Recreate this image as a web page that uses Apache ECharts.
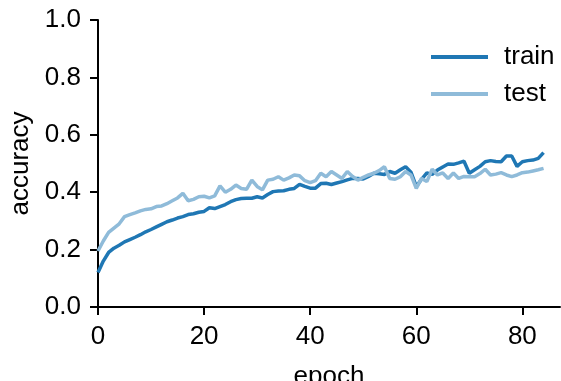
<!DOCTYPE html>
<html>
<head>
<meta charset="utf-8">
<script src="https://cdn.jsdelivr.net/npm/echarts@6/dist/echarts.min.js"></script>
<style>
  html, body { margin: 0; padding: 0; background: #fff; }
  #chart { width: 561px; height: 381px; }
</style>
</head>
<body>
<div id="chart"></div>
<script>
// accuracy per epoch
const trainAcc = [
  0.12, 0.16, 0.19, 0.205, 0.215, 0.227, 0.235, 0.243, 0.252, 0.262,
  0.27, 0.279, 0.288, 0.297, 0.303, 0.31, 0.315, 0.322, 0.325, 0.33,
  0.333, 0.346, 0.343, 0.35, 0.357, 0.367, 0.374, 0.378, 0.379, 0.379,
  0.384, 0.38, 0.392, 0.402, 0.404, 0.405, 0.41, 0.413, 0.427, 0.42,
  0.414, 0.414, 0.43, 0.431, 0.427, 0.432, 0.437, 0.443, 0.448, 0.448,
  0.446, 0.455, 0.466, 0.464, 0.462, 0.472, 0.466, 0.478, 0.489, 0.47,
  0.42, 0.445, 0.467, 0.462, 0.477, 0.488, 0.498, 0.497, 0.502, 0.508,
  0.466, 0.478, 0.49, 0.506, 0.51, 0.507, 0.506, 0.526, 0.526, 0.49,
  0.506, 0.51, 0.512, 0.518, 0.538
];
const testAcc = [
  0.195, 0.23, 0.26, 0.275, 0.29, 0.315, 0.322, 0.328, 0.335, 0.34,
  0.342, 0.35, 0.352, 0.36, 0.37, 0.38, 0.396, 0.37, 0.375, 0.384,
  0.386, 0.38, 0.387, 0.422, 0.4, 0.41, 0.425, 0.413, 0.41, 0.442,
  0.42, 0.408, 0.442, 0.445, 0.454, 0.442, 0.45, 0.46, 0.457, 0.44,
  0.433, 0.44, 0.466, 0.454, 0.472, 0.46, 0.448, 0.472, 0.455, 0.442,
  0.452, 0.46, 0.466, 0.475, 0.489, 0.448, 0.445, 0.454, 0.472, 0.46,
  0.413, 0.448, 0.437, 0.48, 0.46, 0.467, 0.448, 0.467, 0.448, 0.455,
  0.454, 0.454, 0.465, 0.48, 0.46, 0.463, 0.468, 0.46, 0.454, 0.46,
  0.468, 0.47, 0.474, 0.478, 0.483
];
const xTicks = [0, 20, 40, 60, 80];
const yTicks = [0, 0.2, 0.4, 0.6, 0.8, 1.0];

const FONT = 'Liberation Sans, Arial, sans-serif';
const FS = 26;
const toPairs = arr => arr.map((v, i) => [i, v]);

const chart = echarts.init(document.getElementById('chart'), null, { renderer: 'canvas' });

const axisLine = { show: true, lineStyle: { color: '#000', width: 2 } };
const axisTick = { show: true, inside: false, length: 8, lineStyle: { color: '#000', width: 2 } };

const option = {
  animation: false,
  backgroundColor: '#fff',
  grid: { left: 98, right: 1, top: 20, bottom: 74, containLabel: false, outerBoundsMode: 'none' },
  legend: {
    left: 426,
    top: 39,
    orient: 'vertical',
    icon: 'rect',
    itemWidth: 57,
    itemHeight: 4,
    itemGap: 11,
    data: ['train', 'test'],
    textStyle: { fontFamily: FONT, fontSize: FS, color: '#000', lineHeight: 26, padding: [0, 0, 0, 11] }
  },
  xAxis: {
    type: 'value',
    min: 0,
    max: 87.1,
    name: 'epoch',
    nameLocation: 'middle',
    nameGap: 57,
    nameTextStyle: { fontFamily: FONT, fontSize: FS, color: '#000' },
    axisLine: axisLine,
    axisTick: Object.assign({ customValues: xTicks }, axisTick),
    axisLabel: { customValues: xTicks, margin: 17, fontFamily: FONT, fontSize: FS, color: '#000' },
    splitLine: { show: false }
  },
  yAxis: {
    type: 'value',
    min: 0,
    max: 1,
    name: 'accuracy',
    nameLocation: 'middle',
    nameGap: 64,
    nameTextStyle: { fontFamily: FONT, fontSize: FS, color: '#000' },
    axisLine: axisLine,
    axisTick: Object.assign({ customValues: yTicks }, axisTick),
    axisLabel: {
      customValues: yTicks,
      margin: 17,
      fontFamily: FONT,
      fontSize: FS,
      color: '#000',
      formatter: v => v.toFixed(1)
    },
    splitLine: { show: false }
  },
  series: [
    {
      name: 'train',
      type: 'line',
      data: toPairs(trainAcc),
      showSymbol: false,
      symbol: 'none',
      itemStyle: { color: '#1f77b4' },
      lineStyle: { color: '#1f77b4', width: 3.5 }
    },
    {
      name: 'test',
      type: 'line',
      data: toPairs(testAcc),
      showSymbol: false,
      symbol: 'none',
      itemStyle: { color: '#8fbbd9' },
      lineStyle: { color: '#8fbbd9', width: 3.5 }
    }
  ]
};

chart.setOption(option);
</script>
</body>
</html>
